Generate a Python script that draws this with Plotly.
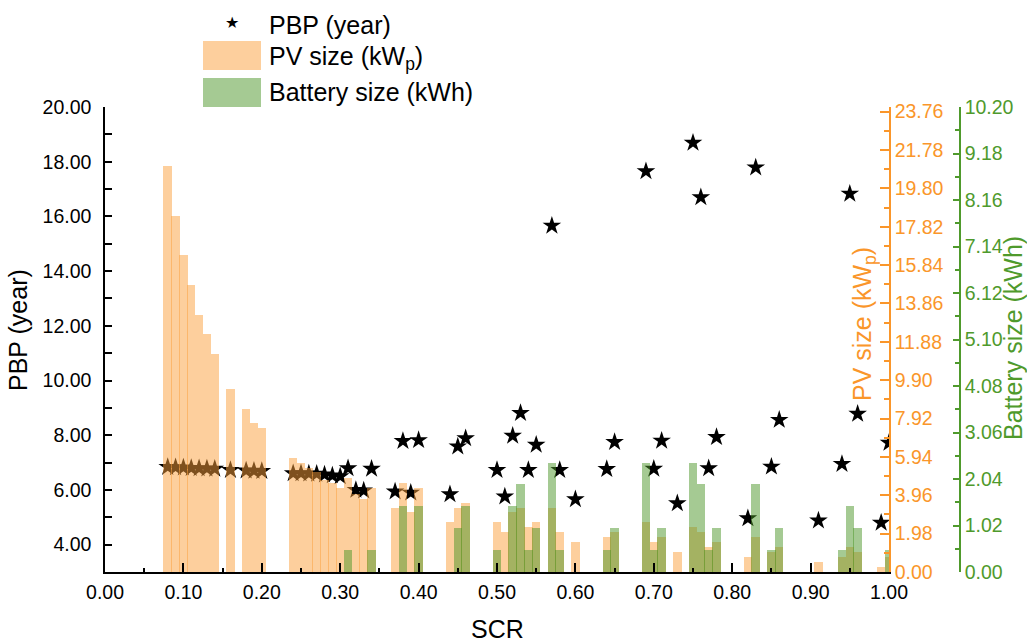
import plotly.graph_objects as go

# Self-consumption ratio of each simulated system
scr = [0.08, 0.09, 0.10, 0.11, 0.12, 0.13, 0.14, 0.16, 0.18, 0.19, 0.20,
       0.24, 0.25, 0.26, 0.27, 0.28, 0.29, 0.30, 0.31, 0.32, 0.33, 0.34,
       0.37, 0.38, 0.39, 0.40, 0.44, 0.45, 0.46,
       0.50, 0.51, 0.52, 0.53, 0.54, 0.55, 0.57, 0.58, 0.60,
       0.64, 0.65, 0.69, 0.70, 0.71, 0.73, 0.75, 0.76, 0.77, 0.78,
       0.82, 0.83, 0.85, 0.86, 0.91, 0.94, 0.95, 0.96, 0.99, 1.00]

# Payback period (years)
pbp = [6.84, 6.83, 6.82, 6.80, 6.79, 6.78, 6.77, 6.73, 6.71, 6.70, 6.69,
       6.61, 6.61, 6.60, 6.59, 6.56, 6.53, 6.50, 6.79, 6.00, 5.98, 6.77,
       5.94, 7.79, 5.90, 7.82, 5.84, 7.59, 7.89,
       6.73, 5.76, 7.98, 8.81, 6.73, 7.65, 15.66, 6.73, 5.66,
       6.76, 7.75, 17.65, 6.77, 7.80, 5.51, 18.69, 16.70, 6.79, 7.93,
       4.96, 17.79, 6.85, 8.56, 4.88, 6.95, 16.83, 8.78, 4.80, 7.72]

# PV size (kWp)
pv_size = [20.97, 18.37, 16.36, 14.81, 13.26, 12.28, 11.25, 9.44, 8.40, 7.68, 7.42,
           5.87, 5.61, 5.36, 5.17, 4.77, 4.60, 4.32, 4.84, 4.05, 3.79, 4.32,
           3.29, 4.58, 3.08, 4.32, 2.57, 3.29, 3.55,
           2.57, 2.05, 3.08, 3.29, 2.31, 2.57, 3.29, 2.05, 1.53,
           1.79, 2.05, 2.57, 1.53, 1.79, 1.02, 2.31, 2.05, 1.28, 1.53,
           0.76, 1.79, 1.02, 1.28, 0.50, 0.77, 1.28, 1.02, 0.24, 0.77]

# Battery size (kWh); None where no battery is installed
battery_size = [None, None, None, None, None, None, None, None, None, None, None,
                None, None, None, None, None, None, None, 0.48, None, None, 0.48,
                None, 1.44, None, 1.44, None, 0.96, 1.44,
                0.48, None, 1.44, 1.92, 0.48, 0.96, 2.40, 0.48, None,
                0.48, 0.96, 2.40, 0.48, 0.96, None, 2.40, 1.92, 0.48, 0.96,
                None, 1.92, 0.48, 0.96, None, 0.48, 1.44, 0.96, None, 0.48]

W, H = 1027, 644
ML, MR, MT, MB = 105, 40, 107, 72
PW = W - ML - MR
PH = H - MT - MB


def px(x):
    return (x - ML) / PW


def py(y):
    return (H - MB - y) / PH


FONT = "Arial, Liberation Sans, sans-serif"
ORANGE = "#FA962A"
GREEN = "#4F9A2C"
BAR_ORANGE = "rgba(252,160,60,0.5)"
BAR_GREEN = "rgba(76,150,40,0.5)"
BAR_W = 0.0108

fig = go.Figure()

fig.add_trace(go.Scatter(
    x=scr, y=pbp, mode="markers", name="PBP (year)",
    marker=dict(symbol="star", size=14, color="black"),
    yaxis="y", cliponaxis=True, showlegend=False))

fig.add_trace(go.Bar(
    x=scr, y=pv_size, name="PV size (kWp)", width=BAR_W,
    marker=dict(color=BAR_ORANGE, line=dict(width=0)),
    yaxis="y2", showlegend=False))

fig.add_trace(go.Bar(
    x=scr, y=battery_size, name="Battery size (kWh)", width=BAR_W,
    marker=dict(color=BAR_GREEN, line=dict(width=0)),
    yaxis="y3", showlegend=False))

TICK = 19.5
tickfont = dict(family=FONT, size=TICK, color="black")

fig.update_layout(
    width=W, height=H,
    margin=dict(l=ML, r=MR, t=MT, b=MB, pad=0),
    paper_bgcolor="white", plot_bgcolor="white",
    barmode="overlay", bargap=0,
    showlegend=False,
    font=dict(family=FONT, color="black"),
    xaxis=dict(
        domain=[0, px(889)], range=[0, 1], tick0=0, dtick=0.1, tickformat=".2f",
        ticks="inside", ticklen=9, tickwidth=1.5, tickcolor="black",
        showline=True, linecolor="black", linewidth=1.5,
        showgrid=False, zeroline=False, tickfont=tickfont, ticklabelstandoff=2,
        minor=dict(dtick=0.05, ticks="inside", ticklen=4, tickwidth=1.5,
                   tickcolor="black", showgrid=False)),
    yaxis=dict(
        range=[3, 20], tick0=0, dtick=2, tickformat=".2f",
        ticks="inside", ticklen=7, tickwidth=1.5, tickcolor="black",
        showline=True, linecolor="black", linewidth=1.5,
        showgrid=False, zeroline=False, tickfont=tickfont, ticklabelstandoff=8,
        minor=dict(dtick=1, ticks="inside", ticklen=7, tickwidth=1.5,
                   tickcolor="black", showgrid=False)),
    yaxis2=dict(
        overlaying="y", side="right", anchor="x",
        range=[0, 24], tick0=0, dtick=1.98, tickformat=".2f",
        ticks="inside", ticklen=9, tickwidth=1.5, tickcolor=ORANGE,
        showline=True, linecolor=ORANGE, linewidth=1.5,
        showgrid=False, zeroline=False,
        tickfont=dict(family=FONT, size=TICK, color=ORANGE),
        minor=dict(dtick=0.99, ticks="inside", ticklen=5, tickwidth=1.5,
                   tickcolor=ORANGE, showgrid=False)),
    yaxis3=dict(
        overlaying="y", side="right", anchor="free", position=px(960),
        range=[0, 10.2], tick0=0, dtick=1.02, tickformat=".2f",
        ticks="inside", ticklen=6, tickwidth=1.5, tickcolor=GREEN,
        showline=True, linecolor=GREEN, linewidth=1.5,
        showgrid=False, zeroline=False,
        tickfont=dict(family=FONT, size=TICK, color=GREEN),
        minor=dict(dtick=0.51, ticks="inside", ticklen=4, tickwidth=1.5,
                   tickcolor=GREEN, showgrid=False)),
)

TITLE = 25
LEG = 25
annotations = [
    dict(text="SCR", x=px(497), y=py(629), font=dict(size=TITLE, color="black")),
    dict(text="PBP (year)", x=px(18), y=py(330), textangle=-90,
         font=dict(size=TITLE, color="black")),
    dict(text="PV size (kW<sub>p</sub>)", x=px(864), y=py(324), textangle=-90,
         font=dict(size=TITLE, color=ORANGE)),
    dict(text="Battery size (kWh)", x=px(1013), y=py(338), textangle=-90,
         font=dict(size=TITLE, color=GREEN)),
    # legend entries
    dict(text="★", x=px(232), y=py(23), font=dict(size=16, color="black",
                                                    family="DejaVu Sans")),
    dict(text="PBP (year)", x=px(267), y=py(25), xanchor="left",
         font=dict(size=LEG, color="black")),
    dict(text="PV size (kW<sub>p</sub>)", x=px(267), y=py(58), xanchor="left",
         font=dict(size=LEG, color="black")),
    dict(text="Battery size (kWh)", x=px(267), y=py(92), xanchor="left",
         font=dict(size=LEG, color="black")),
]
for a in annotations:
    a.setdefault("xanchor", "center")
    a.update(xref="paper", yref="paper", yanchor="middle", showarrow=False)
    a["font"].setdefault("family", FONT)
fig.update_layout(annotations=annotations)

fig.update_layout(shapes=[
    dict(type="rect", xref="paper", yref="paper",
         x0=px(203), x1=px(261), y0=py(41), y1=py(70),
         fillcolor=BAR_ORANGE, line=dict(width=0)),
    dict(type="rect", xref="paper", yref="paper",
         x0=px(203), x1=px(261), y0=py(78), y1=py(107),
         fillcolor=BAR_GREEN, line=dict(width=0)),
])

fig.write_html("out.html")
